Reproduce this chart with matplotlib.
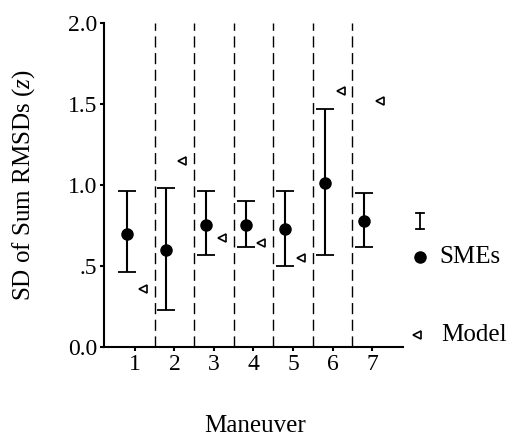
"""
SD of Sum RMSDs per maneuver: SMEs (mean with range) vs Model
"""
import matplotlib
matplotlib.use("Agg")
import matplotlib.pyplot as plt
import numpy as np

plt.rcParams["font.family"] = ["Liberation Serif", "DejaVu Serif"]
plt.rcParams["mathtext.fontset"] = "custom"
plt.rcParams["mathtext.it"] = "Liberation Serif:italic"

# data
maneuvers = [1, 2, 3, 4, 5, 6, 7]
sme_mean = [0.70, 0.60, 0.75, 0.75, 0.73, 1.01, 0.78]
sme_low = [0.46, 0.23, 0.57, 0.62, 0.50, 0.57, 0.62]
sme_high = [0.96, 0.98, 0.96, 0.90, 0.96, 1.47, 0.95]
model = [0.36, 1.15, 0.67, 0.64, 0.55, 1.58, 1.52]
yticks = [0.0, 0.5, 1.0, 1.5, 2.0]
ytick_labels = ["0.0", ".5", "1.0", "1.5", "2.0"]

FS = 17

fig = plt.figure(figsize=(5.13, 4.40), dpi=100)
ax = fig.add_axes([0.2027, 0.2114, 0.5829, 0.7363])

x = np.array(maneuvers)
mean = np.array(sme_mean)
yerr = [mean - np.array(sme_low), np.array(sme_high) - mean]

# separators between maneuvers
for xv in x[:-1] + 0.5:
    ax.plot([xv, xv], [0, 2.0], color="black", lw=1.0, ls=(0, (8, 4)), clip_on=False)

ax.errorbar(x - 0.2, mean, yerr=yerr, fmt="o", color="black", ms=8,
            capsize=6.5, elinewidth=1.5, capthick=1.3)
ax.plot(x + 0.2, model, ls="none", marker="<", ms=6, mfc="white",
        mec="black", mew=1.2)

ax.set_xlim(0.22, 7.78)
ax.set_ylim(0, 2.0)
ax.set_xticks(maneuvers)
ax.set_xticklabels([str(m) for m in maneuvers])
ax.set_yticks(yticks)
ax.set_yticklabels(ytick_labels)
ax.tick_params(axis="both", labelsize=FS, length=3, width=1.5, direction="out")
ax.tick_params(axis="y", pad=2)
ax.tick_params(axis="x", pad=2)
ax.spines["top"].set_visible(False)
ax.spines["right"].set_visible(False)
ax.spines["left"].set_linewidth(1.5)
ax.spines["bottom"].set_linewidth(1.5)

ax.set_ylabel("SD of Sum RMSDs ($z$)", fontsize=FS + 1, labelpad=22)
fig.text(255 / 513, 1 - 426 / 440, "Maneuver", fontsize=FS + 1, ha="center", va="center")

# legend drawn by hand
tf = fig.transFigure
lx = 420 / 513
fig.lines.append(plt.Line2D([lx, lx], [1 - 213 / 440, 1 - 229 / 440], transform=tf,
                            color="black", lw=1.3))
for yy in (213, 229):
    fig.lines.append(plt.Line2D([lx - 4 / 513, lx + 4 / 513], [1 - yy / 440] * 2,
                                transform=tf, color="black", lw=1.3))
fig.lines.append(plt.Line2D([lx], [1 - 257 / 440], transform=tf, marker="o",
                            ms=8, color="black", ls="none"))
fig.text(439 / 513, 1 - 257 / 440, "SMEs", fontsize=FS + 1, va="center")
fig.lines.append(plt.Line2D([lx - 3 / 513], [1 - 335 / 440], transform=tf, marker="<",
                            ms=6, mfc="white", mec="black", mew=1.2, ls="none"))
fig.text(441 / 513, 1 - 335 / 440, "Model", fontsize=FS + 1, va="center")

plt.savefig("out.png", dpi=100)
plt.close()
